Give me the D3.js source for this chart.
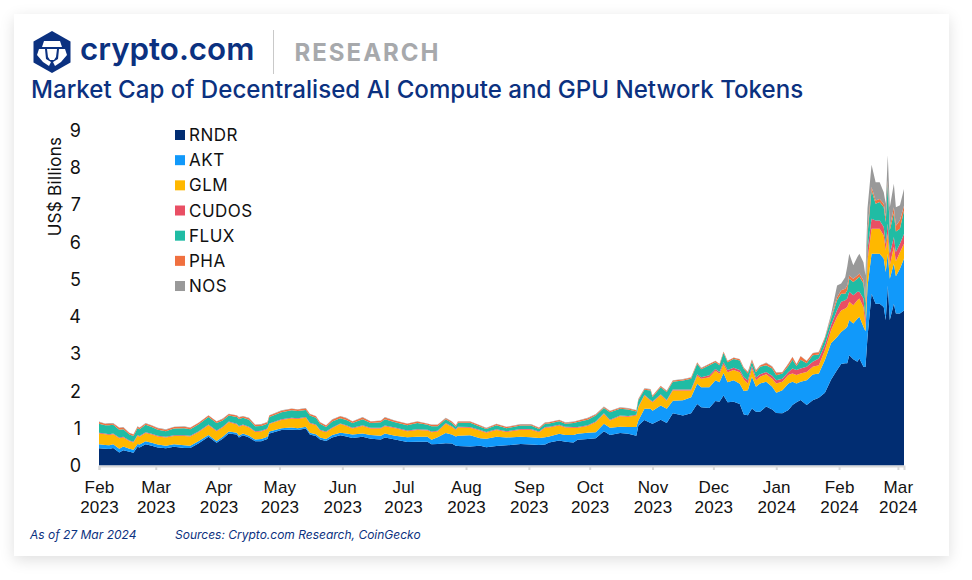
<!DOCTYPE html>
<html lang="en">
<head>
<meta charset="UTF-8">
<script src="https://cdn.jsdelivr.net/npm/d3@7"></script>
<style>
  html, body { margin: 0; background: #fff; }
  #card { position: absolute; left: 14px; top: 14px; width: 935px; height: 542px; background: #fff;
          box-shadow: 0 4px 14px rgba(0,0,0,0.13); }
  svg { position: absolute; left: 0; top: 0; font-family: Inter, sans-serif; }
</style>
</head>
<body>
<div id="card"></div>
<div id="fig"></div>
<script>
const width = 972, height = 580;

const startDate = new Date(2023, 1, 1);
const dayOffsets = [
  0,3,5,7,10,12,15,17,19,20,
  23,26,29,33,37,42,45,49,54,58,
  61,64,68,69,71,74,77,80,83,84,
  90,95,98,102,104,107,109,112,115,119,
  122,125,130,134,139,141,146,152,157,162,
  164,167,171,174,176,177,183,188,191,196,
  201,208,213,217,220,222,227,230,234,236,
  241,245,249,252,257,261,265,266,269,272,
  273,277,280,283,288,292,295,297,301,304,
  306,308,310,313,316,318,320,322,324,326,
  329,332,334,337,340,342,344,346,349,352,
  355,358,361,364,366,368,369,370,372,374,
  375,377,378,379,381,383,385,387,388,389,
  390,392,393,395,397];

const RNDR = [
  .46,.45,.44,.47,.35,.41,.37,.34,.50,.48,
  .57,.53,.48,.46,.50,.47,.47,.59,.77,.61,
  .72,.86,.83,.75,.81,.75,.65,.65,.71,.86,
  .95,.96,.95,.99,.83,.79,.70,.66,.75,.81,
  .78,.74,.77,.72,.70,.75,.70,.63,.64,.64,
  .57,.58,.60,.59,.53,.52,.51,.53,.49,.52,
  .54,.58,.56,.55,.56,.62,.67,.64,.62,.69,
  .71,.73,.92,.82,.87,.85,.80,1.07,1.22,1.14,
  1.12,1.23,1.14,1.40,1.34,1.40,1.65,1.56,1.54,1.73,
  1.71,1.88,1.70,1.71,1.65,1.37,1.35,1.53,1.44,1.44,
  1.58,1.50,1.41,1.40,1.49,1.62,1.70,1.76,1.62,1.75,
  1.82,1.95,2.30,2.56,2.72,2.74,2.74,2.96,2.85,2.78,
  2.87,2.65,2.64,3.45,4.61,4.34,4.34,4.25,3.90,4.83,
  3.90,4.34,4.08,4.08,4.16];
const AKT = [
  .11,.10,.10,.10,.10,.10,.08,.08,.08,.08,
  .08,.08,.08,.07,.07,.07,.06,.06,.05,.05,
  .05,.05,.05,.05,.05,.05,.05,.06,.06,.05,
  .05,.06,.05,.05,.05,.05,.05,.05,.07,.07,
  .08,.09,.09,.10,.10,.11,.10,.13,.13,.13,
  .12,.18,.27,.24,.25,.28,.30,.20,.23,.25,
  .21,.19,.20,.19,.20,.16,.18,.18,.20,.16,
  .17,.16,.20,.19,.17,.18,.23,.14,.30,.38,
  .35,.38,.38,.34,.41,.43,.54,.54,.56,.56,
  .52,.60,.53,.58,.54,.63,.67,.85,.67,.76,
  .67,.61,.54,.62,.71,.63,.50,.49,.67,.69,
  .65,.88,.98,.89,.86,.93,.98,.94,.96,1.16,
  1.12,1.07,.96,1.35,1.07,1.34,1.34,1.30,1.29,.85,
  1.11,1.08,1.00,1.20,1.39];
const GLM = [
  .29,.29,.28,.27,.28,.24,.20,.20,.22,.21,
  .22,.22,.22,.22,.22,.25,.25,.24,.26,.26,
  .25,.25,.22,.24,.22,.22,.20,.20,.20,.20,
  .22,.24,.25,.24,.25,.24,.19,.18,.18,.23,
  .20,.16,.20,.17,.19,.19,.20,.16,.18,.17,
  .20,.15,.25,.20,.17,.22,.20,.20,.16,.18,
  .15,.19,.20,.15,.25,.24,.22,.20,.19,.16,
  .18,.27,.26,.20,.28,.28,.31,.35,.36,.22,
  .23,.28,.22,.27,.26,.18,.22,.23,.27,.25,
  .23,.23,.27,.27,.31,.31,.18,.22,.18,.18,
  .20,.22,.25,.23,.23,.22,.23,.22,.22,.21,
  .22,.26,.35,.54,.58,.54,.53,.49,.49,.49,
  .49,.53,.15,.70,.67,.67,.67,.62,.58,.54,
  .36,.45,.40,.44,.40];
const CUDOS = [
  .02,.02,.02,.02,.02,.02,.02,.02,.02,.02,
  .02,.02,.02,.02,.02,.02,.02,.02,.02,.02,
  .02,.02,.02,.02,.02,.02,.02,.02,.02,.02,
  .02,.02,.02,.02,.02,.02,.02,.02,.02,.02,
  .02,.02,.02,.02,.02,.02,.02,.02,.02,.02,
  .02,.02,.02,.02,.02,.02,.02,.02,.02,.02,
  .02,.02,.02,.02,.02,.02,.02,.02,.02,.02,
  .02,.02,.02,.02,.02,.02,.02,.02,.02,.02,
  .02,.02,.02,.03,.03,.03,.04,.04,.05,.05,
  .05,.06,.06,.06,.06,.06,.09,.07,.07,.07,
  .06,.08,.09,.08,.08,.13,.13,.13,.14,.13,
  .18,.14,.13,.18,.23,.22,.23,.27,.27,.23,
  .18,.23,.20,.30,.27,.22,.22,.23,.18,.27,
  .31,.26,.25,.23,.27];
const FLUX = [
  .24,.22,.24,.23,.21,.20,.16,.15,.18,.18,
  .20,.18,.16,.15,.18,.19,.17,.19,.20,.20,
  .17,.16,.18,.19,.18,.19,.13,.13,.13,.17,
  .19,.20,.19,.19,.19,.18,.16,.12,.16,.14,
  .14,.13,.16,.13,.15,.17,.14,.14,.17,.13,
  .14,.12,.10,.09,.07,.11,.12,.09,.08,.11,
  .08,.09,.09,.07,.09,.09,.10,.08,.11,.14,
  .15,.16,.14,.20,.18,.17,.09,.17,.13,.25,
  .12,.19,.21,.21,.24,.29,.28,.21,.27,.18,
  .18,.25,.21,.24,.26,.22,.18,.11,.14,.20,
  .18,.19,.13,.14,.16,.24,.11,.24,.09,.18,
  .11,.18,.17,.26,.22,.18,.22,.35,.35,.35,
  .40,.40,.40,.40,.76,.45,.50,.53,.58,1.07,
  .63,.63,.55,.40,.62];
const PHA = [
  .05,.04,.05,.04,.05,.05,.04,.04,.04,.04,
  .04,.04,.04,.04,.04,.04,.04,.04,.04,.04,
  .04,.04,.04,.04,.04,.04,.04,.04,.04,.04,
  .04,.04,.04,.04,.04,.04,.04,.04,.05,.05,
  .05,.04,.05,.04,.04,.05,.04,.04,.04,.03,
  .04,.04,.03,.04,.03,.03,.03,.03,.02,.03,
  .03,.03,.03,.03,.03,.03,.03,.03,.03,.03,
  .04,.03,.03,.03,.03,.03,.03,.03,.03,.03,
  .03,.03,.03,.03,.03,.03,.03,.03,.03,.03,
  .03,.03,.03,.03,.03,.03,.04,.06,.05,.03,
  .06,.05,.07,.03,.06,.07,.04,.09,.06,.05,
  .06,.03,.05,.09,.09,.13,.13,.09,.09,.09,
  .09,.09,.10,.15,.09,.09,.08,.09,.13,.09,
  .09,.17,.15,.23,.13];
const NOS = [
  .01,.01,.01,.01,.01,.01,.01,.01,.01,.01,
  .01,.01,.01,.01,.01,.01,.01,.01,.01,.01,
  .01,.01,.01,.01,.01,.01,.01,.01,.01,.01,
  .01,.01,.01,.01,.01,.01,.01,.01,.01,.01,
  .01,.01,.01,.01,.01,.01,.01,.01,.01,.01,
  .01,.01,.01,.01,.01,.01,.01,.01,.01,.01,
  .01,.01,.01,.01,.01,.01,.01,.01,.01,.01,
  .01,.01,.01,.01,.01,.01,.01,.01,.01,.01,
  .01,.01,.01,.01,.01,.01,.01,.01,.01,.01,
  .01,.01,.01,.01,.01,.01,.01,.01,.01,.01,
  .01,.01,.01,.01,.01,.01,.01,.01,.01,.01,
  .01,.01,.07,.31,.18,.31,.50,.58,.36,.49,
  .53,.48,.65,.55,.60,.49,.45,.31,.36,.67,
  .53,.63,.50,.40,.45];

const tokens = ["RNDR", "AKT", "GLM", "CUDOS", "FLUX", "PHA", "NOS"];
const seriesValues = [RNDR, AKT, GLM, CUDOS, FLUX, PHA, NOS];
const colors = ["#012d72", "#1199fa", "#ffb800", "#e94f64", "#20bca4", "#f0703f", "#999999"];
const tickMonths = [
  [2023,1],[2023,2],[2023,3],[2023,4],[2023,5],[2023,6],
  [2023,7],[2023,8],[2023,9],[2023,10],[2023,11],[2024,0],[2024,1],[2024,2]
].map(d => new Date(d[0], d[1], 1));

const navy = "#0b3180";

const rows = dayOffsets.map((d, i) => {
  const row = { date: d3.timeDay.offset(startDate, d) };
  tokens.forEach((t, j) => { row[t] = seriesValues[j][i]; });
  return row;
});

const svg = d3.select("#fig").append("svg").attr("width", width).attr("height", height);

const x = d3.scaleTime().domain([startDate, d3.timeDay.offset(startDate, 397)]).range([99, 904]);
const y = d3.scaleLinear().domain([0, 9]).range([465.5, 130]);

const stacked = d3.stack().keys(tokens)(rows);
const area = d3.area().x(d => x(d.data.date)).y0(d => y(d[0])).y1(d => y(d[1]));

svg.append("g").selectAll("path").data(stacked).join("path")
  .attr("d", area)
  .attr("fill", (d, i) => colors[i]);

// x axis, two line labels
const xAxis = svg.append("g").attr("transform", "translate(0,466)")
  .call(d3.axisBottom(x).tickValues(tickMonths).tickSize(4).tickFormat(""));
xAxis.select(".domain").attr("stroke", "#d9d9d9").attr("stroke-width", 2);
xAxis.selectAll(".tick line").attr("stroke", "#d9d9d9").attr("stroke-width", 2);
xAxis.selectAll(".tick").append("text")
  .attr("text-anchor", "middle").attr("fill", "#111").style("font-size", "17px").style("letter-spacing", "0.2px")
  .each(function(d) {
    const t = d3.select(this);
    t.append("tspan").attr("x", 0).attr("y", 27).text(d3.timeFormat("%b")(d));
    t.append("tspan").attr("x", 0).attr("y", 47).text(d3.timeFormat("%Y")(d));
  });

// y axis
const yAxis = svg.append("g").attr("transform", "translate(81,0.5)")
  .call(d3.axisLeft(y).ticks(9).tickSize(0).tickPadding(0));
yAxis.select(".domain").remove();
yAxis.selectAll("text").attr("fill", "#111").style("font-size", "18px").style("font-family", "Inter, sans-serif");

svg.append("text").attr("transform", "translate(61,186.5) rotate(-90)")
  .attr("text-anchor", "middle").attr("fill", "#111").style("font-size", "17px").style("letter-spacing", "0.3px")
  .text("US$ Billions");

// legend
const legend = svg.append("g").selectAll("g").data(tokens).join("g")
  .attr("transform", (d, i) => `translate(175,${135 + i * 25.17})`);
legend.append("rect").attr("y", -5).attr("width", 10).attr("height", 10).attr("fill", (d, i) => colors[i]);
legend.append("text").attr("x", 14).attr("y", 6).attr("fill", "#111")
  .style("font-size", "17px").style("letter-spacing", "0.5px").text(d => d);

// header
const logo = svg.append("g").attr("transform", "translate(52,52)");
logo.append("path").attr("d", "M0,-21 L18.5,-10.5 L18.5,10.5 L0,21 L-18.5,10.5 L-18.5,-10.5 Z").attr("fill", "#0b3180");
logo.append("path").attr("d", "M-8,-11 L8,-11 L10,-5 L-10,-5 Z M-5,-3 L5,-3 L4,5 L2,8 L-2,8 L-4,5 Z").attr("fill", "#fff");
logo.append("path").attr("d", "M-13,-3 L-7,-3 L-6,7 L-1,10 L-3,14 L-9,10 L-15,3 Z M13,-3 L7,-3 L6,7 L1,10 L3,14 L9,10 L15,3 Z").attr("fill", "#fff");

svg.append("text").attr("x", 80).attr("y", 60).attr("fill", navy)
  .style("font-size", "31.3px").style("font-weight", 600).text("crypto.com");
svg.append("line").attr("x1", 273.5).attr("x2", 273.5).attr("y1", 30).attr("y2", 74).attr("stroke", "#c9c9c9");
svg.append("text").attr("x", 294.5).attr("y", 60.5).attr("fill", "#a7a9ac")
  .style("font-size", "24px").style("font-weight", 700).style("letter-spacing", "2px").text("RESEARCH");
svg.append("text").attr("x", 31).attr("y", 98).attr("fill", navy)
  .style("font-size", "24.1px").style("font-weight", 500).text("Market Cap of Decentralised AI Compute and GPU Network Tokens");

// footer
svg.append("text").attr("x", 30).attr("y", 539).attr("fill", navy).style("font-size", "12px").style("font-style", "italic").text("As of 27 Mar 2024");
svg.append("text").attr("x", 175).attr("y", 539).attr("fill", navy).style("font-size", "12px").style("font-style", "italic").text("Sources: Crypto.com Research, CoinGecko");
</script>
</body>
</html>
